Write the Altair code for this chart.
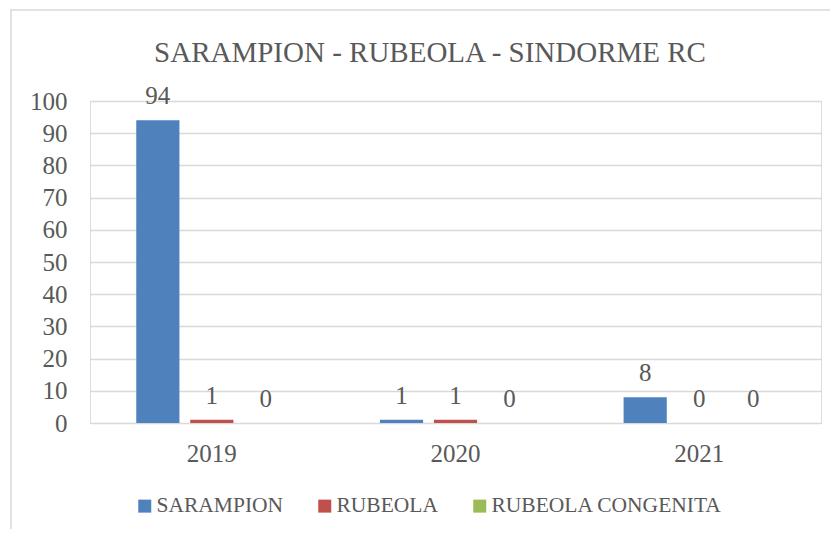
import altair as alt
import pandas as pd

title_text = "SARAMPION - RUBEOLA - SINDORME RC"
years = ["2019", "2020", "2021"]
series = ["SARAMPION", "RUBEOLA", "RUBEOLA CONGENITA"]
sarampion = [94, 1, 8]
rubeola = [1, 1, 0]
congenita = [0, 0, 0]
colors = ["#4F81BD", "#C0504D", "#9BBB59"]
y_ticks = [0, 10, 20, 30, 40, 50, 60, 70, 80, 90, 100]

rows = []
for i, y in enumerate(years):
    for s, vals in zip(series, [sarampion, rubeola, congenita]):
        rows.append({"year": y, "serie": s, "value": vals[i]})
df = pd.DataFrame(rows)

FONT = "Liberation Serif"
TXT = "#595959"

x_enc = alt.X("year:N", sort=years, title=None,
              scale=alt.Scale(paddingInner=0, paddingOuter=0),
              axis=alt.Axis(labelAngle=0, ticks=False, domain=False, labelPadding=18,
                            labelFontSize=25, labelColor=TXT, labelFont=FONT))
xoff = alt.XOffset("serie:N", sort=series,
                   scale=alt.Scale(paddingInner=0.2, paddingOuter=0.857))
y_enc = alt.Y("value:Q", title=None,
              scale=alt.Scale(domain=[0, 100], nice=False),
              axis=alt.Axis(values=y_ticks, ticks=False, domain=False,
                            labelOverlap=False,
                            labelPadding=23, labelFontSize=25, labelColor=TXT, labelFont=FONT,
                            gridColor="#D9D9D9", gridWidth=1.5))
color_enc = alt.Color("serie:N", sort=series,
                      scale=alt.Scale(domain=series, range=colors),
                      legend=alt.Legend(title=None, orient="none", direction="horizontal",
                                        legendX=44, legendY=394, symbolType="square",
                                        symbolSize=169, symbolStrokeWidth=0, symbolOpacity=1,
                                        labelFontSize=21.5, labelColor=TXT, labelFont=FONT,
                                        labelLimit=400, labelOffset=1, columnPadding=30))

bars = alt.Chart(df).mark_bar().encode(x=x_enc, xOffset=xoff, y=y_enc, color=color_enc)
labels = alt.Chart(df).mark_text(fontSize=25, font=FONT, color=TXT, baseline="middle", dy=-24).encode(
    x=x_enc, xOffset=xoff, y=y_enc, text=alt.Text("value:Q"))

frame = alt.Chart(pd.DataFrame({"a": [0]})).mark_rect(fill=None, stroke="#D9D9D9", strokeWidth=1.5).encode(
    x=alt.value(-79), x2=alt.value(800), y=alt.value(-91), y2=alt.value(520))

title = alt.Chart(pd.DataFrame({"t": [title_text]})).mark_text(
    fontSize=29, font=FONT, color=TXT, align="center", baseline="alphabetic").encode(
    text="t:N", x=alt.value(340), y=alt.value(-39))

chart = alt.layer(frame, bars, labels, title).properties(
    width=731, height=322,
    autosize=alt.AutoSizeParams(type="none"),
    padding={"left": 82, "top": 93, "right": 9, "bottom": 106},
).configure_view(strokeWidth=0).configure(background="white")

chart.save("out.html", embed_options={"renderer": "svg", "actions": False})
